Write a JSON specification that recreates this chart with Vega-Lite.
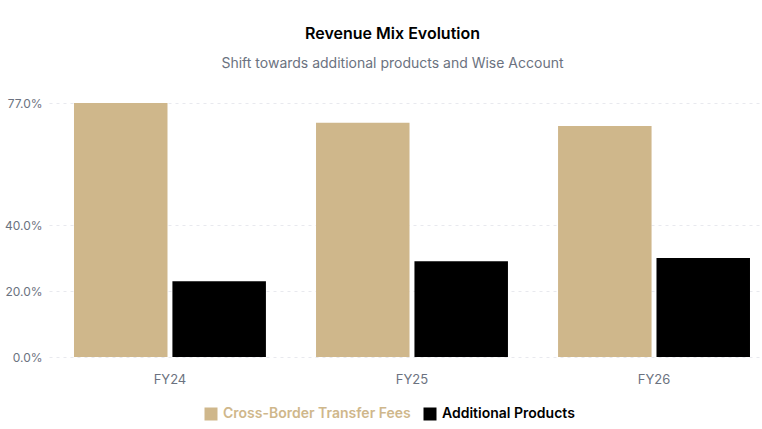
{
  "$schema": "https://vega.github.io/schema/vega-lite/v6.json",
  "autosize": {"type": "none"},
  "padding": {"top": 103, "left": 49, "right": 2, "bottom": 72},
  "width": 711,
  "height": 254,
  "background": "white",
  "title": {
    "text": "Revenue Mix Evolution",
    "subtitle": "Shift towards additional products and Wise Account",
    "anchor": "middle",
    "dx": -12,
    "offset": 26,
    "font": "Inter",
    "fontSize": 16,
    "fontWeight": 600,
    "color": "#000000",
    "subtitleFont": "Inter",
    "subtitleFontSize": 14,
    "subtitleColor": "#6b7280",
    "subtitlePadding": 15
  },
  "data": {
    "values": [
      {"year": "FY24", "series": "Cross-Border Transfer Fees", "share": 0.77},
      {"year": "FY24", "series": "Additional Products", "share": 0.23},
      {"year": "FY25", "series": "Cross-Border Transfer Fees", "share": 0.71},
      {"year": "FY25", "series": "Additional Products", "share": 0.29},
      {"year": "FY26", "series": "Cross-Border Transfer Fees", "share": 0.70},
      {"year": "FY26", "series": "Additional Products", "share": 0.30}
    ]
  },
  "mark": {"type": "bar"},
  "encoding": {
    "x": {
      "field": "year",
      "type": "nominal",
      "title": null,
      "scale": {"paddingInner": 0.207, "paddingOuter": 0.0723, "align": 0.714},
      "axis": {
        "labelAngle": 0,
        "ticks": false,
        "domain": false,
        "labelPadding": 16,
        "labelFont": "Inter",
        "labelFontSize": 13,
        "labelColor": "#6b7280"
      }
    },
    "xOffset": {
      "field": "series",
      "type": "nominal",
      "sort": ["Cross-Border Transfer Fees", "Additional Products"],
      "scale": {"paddingInner": 0.05, "paddingOuter": 0}
    },
    "y": {
      "field": "share",
      "type": "quantitative",
      "title": null,
      "scale": {"domain": [0, 0.77], "nice": false},
      "axis": {
        "values": [0, 0.2, 0.4, 0.77],
        "format": ".1%",
        "ticks": false,
        "domain": false,
        "labelPadding": 7,
        "labelFont": "Inter",
        "labelFontSize": 12,
        "labelColor": "#6b7280",
        "gridColor": "#e8e9ee",
        "gridDash": [3, 4]
      }
    },
    "color": {
      "field": "series",
      "type": "nominal",
      "sort": ["Cross-Border Transfer Fees", "Additional Products"],
      "scale": {
        "domain": ["Cross-Border Transfer Fees", "Additional Products"],
        "range": ["#cfb78b", "#000000"]
      },
      "legend": {
        "title": null,
        "orient": "none",
        "direction": "horizontal",
        "legendX": 155,
        "legendY": 304,
        "symbolType": "square",
        "symbolSize": 169,
        "symbolStrokeWidth": 0,
        "symbolOpacity": 1,
        "labelFont": "Inter",
        "labelFontSize": 14,
        "labelFontWeight": 600,
        "labelOffset": 5,
        "labelLimit": 0,
        "columnPadding": 12,
        "labelColor": {"expr": "datum.value === 'Cross-Border Transfer Fees' ? '#cfb78b' : '#000000'"}
      }
    }
  },
  "config": {
    "view": {"stroke": null}
  }
}
